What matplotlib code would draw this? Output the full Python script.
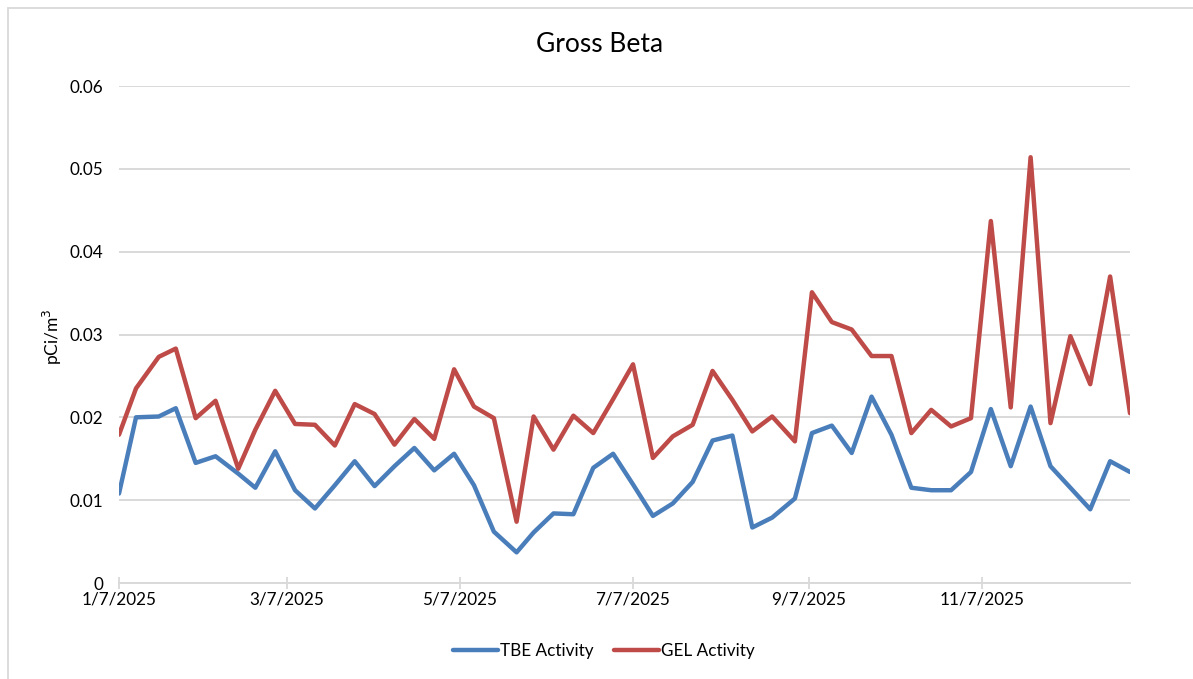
import matplotlib
matplotlib.use("Agg")
import matplotlib.pyplot as plt
from matplotlib.patches import Rectangle
import pandas as pd

dates = ["2025-01-07", "2025-01-13", "2025-01-21", "2025-01-27", "2025-02-03", "2025-02-10",
         "2025-02-18", "2025-02-24", "2025-03-03", "2025-03-10", "2025-03-17", "2025-03-24",
         "2025-03-31", "2025-04-07", "2025-04-14", "2025-04-21", "2025-04-28", "2025-05-05",
         "2025-05-12", "2025-05-19", "2025-05-27", "2025-06-02", "2025-06-09", "2025-06-16",
         "2025-06-23", "2025-06-30", "2025-07-07", "2025-07-14", "2025-07-21", "2025-07-28",
         "2025-08-04", "2025-08-11", "2025-08-18", "2025-08-25", "2025-09-02", "2025-09-08",
         "2025-09-15", "2025-09-22", "2025-09-29", "2025-10-06", "2025-10-13", "2025-10-20",
         "2025-10-27", "2025-11-03", "2025-11-10", "2025-11-17", "2025-11-24", "2025-12-01",
         "2025-12-08", "2025-12-15", "2025-12-22", "2025-12-29"]

tbe_activity = [0.0108, 0.0200, 0.0201, 0.0211, 0.0145, 0.0153, 0.0132, 0.0115, 0.0159, 0.0112,
                0.0090, 0.0118, 0.0147, 0.0117, 0.0141, 0.0163, 0.0136, 0.0156, 0.0118, 0.0062,
                0.0037, 0.0061, 0.0084, 0.0083, 0.0139, 0.0156, 0.0119, 0.0081, 0.0096, 0.0122,
                0.0172, 0.0178, 0.0067, 0.0079, 0.0102, 0.0181, 0.0190, 0.0157, 0.0225, 0.0179,
                0.0115, 0.0112, 0.0112, 0.0134, 0.0210, 0.0141, 0.0213, 0.0141, 0.0115, 0.0089,
                0.0147, 0.0134]

gel_activity = [0.0179, 0.0235, 0.0273, 0.0283, 0.0199, 0.0220, 0.0138, 0.0185, 0.0232, 0.0192,
                0.0191, 0.0166, 0.0216, 0.0204, 0.0167, 0.0198, 0.0174, 0.0258, 0.0213, 0.0199,
                0.0074, 0.0201, 0.0161, 0.0202, 0.0181, 0.0222, 0.0264, 0.0151, 0.0177, 0.0191,
                0.0256, 0.0221, 0.0183, 0.0201, 0.0171, 0.0351, 0.0315, 0.0306, 0.0274, 0.0274,
                0.0181, 0.0209, 0.0189, 0.0199, 0.0437, 0.0212, 0.0514, 0.0193, 0.0298, 0.0240,
                0.0370, 0.0205]

x_tick_dates = ["2025-01-07", "2025-03-07", "2025-05-07", "2025-07-07", "2025-09-07", "2025-11-07"]
y_ticks = [0, 0.01, 0.02, 0.03, 0.04, 0.05, 0.06]

FONT = ["Lato", "DejaVu Sans"]
plt.rcParams["font.family"] = FONT

W, H = 1193, 679
fig = plt.figure(figsize=(W / 100, H / 100), dpi=100)
fig.patch.set_facecolor("white")

# outer chart border
fig.patches.append(Rectangle((8 / W, -0.05), 1.2, (H - 8) / H + 0.05, transform=fig.transFigure,
                             fill=False, edgecolor="#d9d9d9", lw=1.3))

left, right = 119 / W, 1130 / W
bottom, top = 1 - 583 / H, 1 - 86 / H
ax = fig.add_axes([left, bottom, right - left, top - bottom])

d = pd.to_datetime(dates)
ax.plot(d, tbe_activity, color="#4A7EBB", lw=3.2, solid_joinstyle="round",
        solid_capstyle="round", label="TBE Activity")
ax.plot(d, gel_activity, color="#BE4B48", lw=3.2, solid_joinstyle="round",
        solid_capstyle="round", label="GEL Activity")

ax.set_xlim(d[0], d[-1])
ax.set_ylim(0, 0.06)

ax.set_yticks(y_ticks)
ax.set_yticklabels(["0" if v == 0 else f"{v:g}" for v in y_ticks])
xt = pd.to_datetime(x_tick_dates)
ax.set_xticks(xt)
ax.set_xticklabels([f"{t.month}/{t.day}/{t.year}" for t in xt])

ax.yaxis.grid(True, color="#d9d9d9", lw=1.4)
ax.set_axisbelow(True)
for s in ["top", "right", "left"]:
    ax.spines[s].set_visible(False)
ax.spines["bottom"].set_color("#d9d9d9")
ax.spines["bottom"].set_linewidth(1.4)
ax.tick_params(axis="y", length=0, pad=11.5, labelsize=12.3, labelcolor="#000000")
ax.tick_params(axis="x", direction="inout", length=8.5, width=1.3, color="#d9d9d9",
               pad=2, labelsize=12.3, labelcolor="#000000")

fig.text(600 / W, 1 - 44 / H, "Gross Beta", ha="center", va="center", fontsize=19)
fig.text(52 / W, 1 - 337 / H, "pCi/m$^3$", ha="center", va="center", rotation=90, fontsize=12.5)

fig.legend(loc="center", bbox_to_anchor=(604 / W, 1 - 651 / H), ncol=2, frameon=False,
           fontsize=12.3, handlelength=2.6, handletextpad=0.15, columnspacing=1.2)

fig.savefig("out.png", dpi=100, facecolor="white")
